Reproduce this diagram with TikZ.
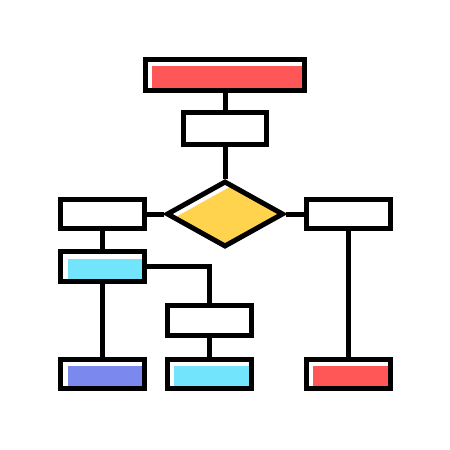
\documentclass[tikz,border=0pt]{standalone}
\usetikzlibrary{shapes.geometric}
\definecolor{cred}{HTML}{FF5757}
\definecolor{cyel}{HTML}{FFD34E}
\definecolor{ccyan}{HTML}{72E4FB}
\definecolor{cblue}{HTML}{7B88EE}
\begin{document}
\begin{tikzpicture}[x=1pt,y=-1pt,
  lw/.style={line width=5pt},
  box/.style={draw, lw, rectangle, inner sep=0pt, minimum width=84pt, minimum height=29.5pt, line join=miter},
  filled/.style={path picture={\fill[#1] ([shift={(7pt,-7pt)}]path picture bounding box.north west) rectangle (path picture bounding box.south east);}},
  link/.style={lw}]
\fill[white] (0,0) rectangle (450,450);
\useasboundingbox (0,0) rectangle (450,450);
% nodes
\node[box, minimum width=159.5pt, minimum height=31.5pt, filled=cred] (top) at (225,75) {};
\node[box, minimum width=83.5pt, minimum height=32.5pt] (b2) at (225,128.5) {};
\node[draw, lw, diamond, inner sep=0pt, minimum width=117pt, minimum height=66pt, line join=miter,
  path picture={\fill[cyel] (path picture bounding box.south west) rectangle (path picture bounding box.north east);
    \draw[white, line width=13pt, shorten <=-20pt, shorten >=-20pt] (path picture bounding box.west) -- (path picture bounding box.north);}] (dec) at (225,214) {};
\node[box] (left) at (102.5,214) {};
\node[box] (right) at (348,214) {};
\node[box, filled=ccyan] (cyan) at (102.5,266.5) {};
\node[box] (mid) at (209,320.5) {};
\node[box, filled=cblue] (bl) at (102.5,374) {};
\node[box, filled=ccyan] (bm) at (209,374) {};
\node[box, filled=cred] (br) at (348,374) {};
% connectors
\draw[link] (top.south) -- (b2.north);
\draw[link] (b2.south) -- (dec.north);
\draw[link] (left.east) -- (dec.west);
\draw[link] (dec.east) -- (right.west);
\draw[link] (left.south) -- (cyan.north);
\draw[link] (cyan.east) -| (mid.north);
\draw[link] (cyan.south) -- (bl.north);
\draw[link] (mid.south) -- (bm.north);
\draw[link] (right.south) -- (br.north);
\end{tikzpicture}
\end{document}
